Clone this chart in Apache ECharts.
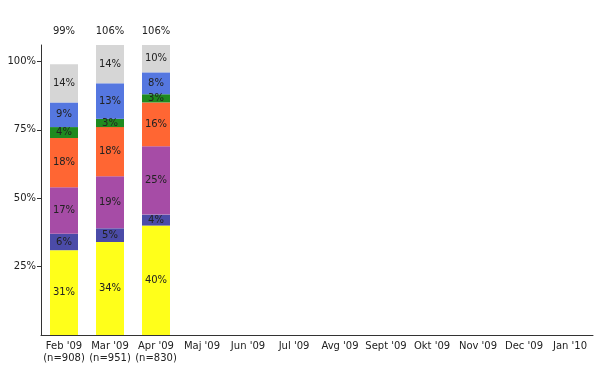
<!DOCTYPE html>
<html><head><meta charset="utf-8">
<script src="https://cdn.jsdelivr.net/npm/echarts@6/dist/echarts.min.js"></script>
<style>html,body{margin:0;padding:0;background:#fff}#c{width:600px;height:390px}</style>
</head><body><div id="c"></div>
<script>
const categories = ["Feb '09\n(n=908)", "Mar '09\n(n=951)", "Apr '09\n(n=830)", "Maj '09", "Jun '09", "Jul '09", "Avg '09", "Sept '09", "Okt '09", "Nov '09", "Dec '09", "Jan '10"];
const totals = ["99%", "106%", "106%", "", "", "", "", "", "", "", "", ""];
const yTicks = [25, 50, 75, 100];
const s1 = [31, 34, 40];
const s2 = [6, 5, 4];
const s3 = [17, 19, 25];
const s4 = [18, 18, 16];
const s5 = [4, 3, 3];
const s6 = [9, 13, 8];
const s7 = [14, 14, 10];
const seriesData = [s1, s2, s3, s4, s5, s6, s7];
const colors = ['#ffff1a', '#4b4ba8', '#a64ca6', '#ff6633', '#1f8a1f', '#5577e0', '#d6d6d6'];
const font = 'DejaVu Sans, Verdana, sans-serif';
const chart = echarts.init(document.getElementById('c'));
chart.setOption({
  animation: false,
  grid: {left: 41, right: 7, top: 45, bottom: 55, containLabel: false},
  xAxis: [{
    type: 'category', data: categories, boundaryGap: true,
    axisLine: {lineStyle: {color: '#333', width: 1}},
    axisTick: {alignWithLabel: true, length: 4, lineStyle: {color: '#333'}},
    axisLabel: {color: '#222', fontFamily: font, fontSize: 10, margin: 5, lineHeight: 12, interval: 0}
  }, {
    type: 'category', data: totals, position: 'top', boundaryGap: true,
    axisLine: {show: false}, axisTick: {show: false},
    axisLabel: {color: '#222', fontFamily: font, fontSize: 10, margin: 9, interval: 0}
  }],
  yAxis: {
    type: 'value', min: 0, max: 106,
    splitLine: {show: false},
    axisLine: {show: true, lineStyle: {color: '#333', width: 1}},
    axisTick: {show: true, length: 4, customValues: yTicks, lineStyle: {color: '#333'}},
    axisLabel: {customValues: yTicks, formatter: v => v + '%', color: '#222', fontFamily: font, fontSize: 10, margin: 5}
  },
  series: seriesData.map((d, i) => ({
    type: 'bar', stack: 'a', data: d, barWidth: 28, xAxisIndex: 0,
    itemStyle: {color: colors[i]},
    label: {show: true, position: 'inside', formatter: p => p.value + '%', color: '#222', fontFamily: font, fontSize: 10}
  }))
});
</script></body></html>
